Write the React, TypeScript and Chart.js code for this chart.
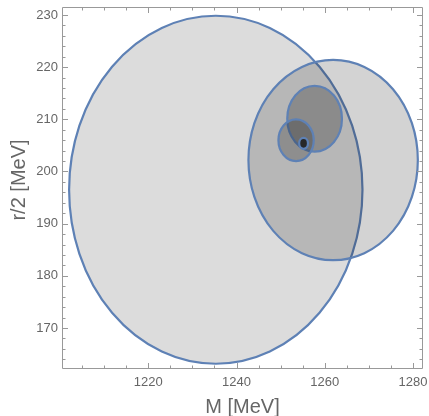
import { useEffect, useRef } from "react";
import { Chart, registerables } from "chart.js";

Chart.register(...registerables);

// Ellipses (confidence regions): centre and half-axes in MeV
const ellipseNames = ["E1", "E2", "E3", "E4", "E5"];
const centerM = [1235.3, 1261.9, 1257.7, 1253.5, 1255.2];
const centerG = [196.5, 202.2, 210.1, 206.0, 205.4];
const halfM = [33.25, 19.2, 6.2, 4.0, 1.0];
const halfG = [33.35, 19.2, 6.3, 4.0, 1.05];
const fillAlpha = [0.15, 0.19, 0.27, 0.25, 0.78];

// Axis ticks
const xMajorTicks = [1220, 1240, 1260, 1280];
const xMinorTicks = [1205, 1210, 1215, 1225, 1230, 1235, 1245, 1250, 1255, 1265, 1270, 1275];
const yMajorTicks = [170, 180, 190, 200, 210, 220, 230];
const yMinorTicks = [
  164, 166, 168, 172, 174, 176, 178, 182, 184, 186, 188, 192, 194, 196, 198,
  202, 204, 206, 208, 212, 214, 216, 218, 222, 224, 226, 228,
];

const X_MIN = 1200.44;
const X_MAX = 1282.27;
const Y_MIN = 162.14;
const Y_MAX = 231.53;

const FONT = "'Liberation Sans', Arial, sans-serif";
const STROKE = "rgb(94,129,181)";
const FRAME = "#999999";
const TEXT = "#666666";

const ellipsePlugin = {
  id: "ellipses",
  beforeDatasetsDraw(chart: any) {
    const { ctx, chartArea, scales } = chart;
    const xs = scales.x;
    const ys = scales.y;
    ctx.save();
    ctx.beginPath();
    ctx.rect(chartArea.left, chartArea.top, chartArea.right - chartArea.left, chartArea.bottom - chartArea.top);
    ctx.clip();
    for (let i = 0; i < centerM.length; i++) {
      const cx = xs.getPixelForValue(centerM[i]);
      const cy = ys.getPixelForValue(centerG[i]);
      const rx = Math.abs(xs.getPixelForValue(centerM[i] + halfM[i]) - cx);
      const ry = Math.abs(ys.getPixelForValue(centerG[i] + halfG[i]) - cy);
      ctx.beginPath();
      ctx.ellipse(cx, cy, rx, ry, 0, 0, Math.PI * 2);
      ctx.fillStyle = `rgba(20,20,20,${fillAlpha[i]})`;
      ctx.fill();
      ctx.lineWidth = 2.2;
      ctx.strokeStyle = STROKE;
      ctx.stroke();
    }
    ctx.restore();
  },
};

const framePlugin = {
  id: "frame",
  afterDraw(chart: any) {
    const { ctx, chartArea, scales } = chart;
    const xs = scales.x;
    const ys = scales.y;
    const { left, right, top, bottom } = chartArea;
    ctx.save();
    ctx.strokeStyle = FRAME;
    ctx.lineWidth = 1;
    ctx.beginPath();
    ctx.rect(Math.round(left) + 0.5, Math.round(top) + 0.5, Math.round(right - left) - 1, Math.round(bottom - top) - 1);
    ctx.stroke();
    const drawX = (v: number, len: number) => {
      const p = Math.round(xs.getPixelForValue(v)) + 0.5;
      ctx.moveTo(p, bottom);
      ctx.lineTo(p, bottom - len);
      ctx.moveTo(p, top);
      ctx.lineTo(p, top + len);
    };
    const drawY = (v: number, len: number) => {
      const p = Math.round(ys.getPixelForValue(v)) + 0.5;
      ctx.moveTo(left, p);
      ctx.lineTo(left + len, p);
      ctx.moveTo(right, p);
      ctx.lineTo(right - len, p);
    };
    ctx.beginPath();
    xMajorTicks.forEach((v) => drawX(v, 6));
    xMinorTicks.forEach((v) => drawX(v, 3.5));
    yMajorTicks.forEach((v) => drawY(v, 6));
    yMinorTicks.forEach((v) => drawY(v, 3.5));
    ctx.stroke();

    ctx.fillStyle = TEXT;
    ctx.font = `20px ${FONT}`;
    ctx.textAlign = "center";
    ctx.textBaseline = "alphabetic";
    ctx.fillText("M [MeV]", (left + right) / 2, 413);
    ctx.translate(25, (top + bottom) / 2 - 8);
    ctx.rotate(-Math.PI / 2);
    ctx.fillText("r/2 [MeV]", 0, 0);
    ctx.restore();
  },
};

export default function App() {
  const ref = useRef<HTMLCanvasElement | null>(null);
  useEffect(() => {
    document.body.style.margin = "0";
    const canvas = ref.current;
    if (!canvas) return;
    const chart = new Chart(canvas, {
      type: "scatter",
      data: {
        datasets: [
          {
            label: "centres",
            data: centerM.map((m, i) => ({ x: m, y: centerG[i], name: ellipseNames[i] })) as any,
            pointRadius: 0,
            pointHoverRadius: 0,
          },
        ],
      },
      options: {
        animation: false,
        responsive: false,
        devicePixelRatio: 1,
        layout: { padding: { top: 7, right: 6, left: 0, bottom: 0 } },
        plugins: { legend: { display: false }, tooltip: { enabled: false } },
        scales: {
          x: {
            type: "linear",
            min: X_MIN,
            max: X_MAX,
            grid: { display: false, drawTicks: false },
            border: { display: false },
            afterBuildTicks: (axis: any) => {
              axis.ticks = xMajorTicks.map((v) => ({ value: v }));
            },
            afterFit: (axis: any) => {
              axis.height = 47;
              axis.paddingLeft = 0;
              axis.paddingRight = 0;
            },
            ticks: {
              color: TEXT,
              font: { size: 13, family: FONT },
              padding: 6,
              maxRotation: 0,
              callback: (v: any) => String(v),
            },
          },
          y: {
            type: "linear",
            min: Y_MIN,
            max: Y_MAX,
            grid: { display: false, drawTicks: false },
            border: { display: false },
            afterBuildTicks: (axis: any) => {
              axis.ticks = yMajorTicks.map((v) => ({ value: v }));
            },
            afterFit: (axis: any) => {
              axis.width = 62;
              axis.paddingTop = 0;
              axis.paddingBottom = 0;
            },
            ticks: {
              color: TEXT,
              font: { size: 13, family: FONT },
              padding: 4,
              callback: (v: any) => String(v),
            },
          },
        },
      },
      plugins: [ellipsePlugin, framePlugin],
    });
    return () => chart.destroy();
  }, []);
  return <canvas ref={ref} width={429} height={416} style={{ display: "block" }} />;
}
